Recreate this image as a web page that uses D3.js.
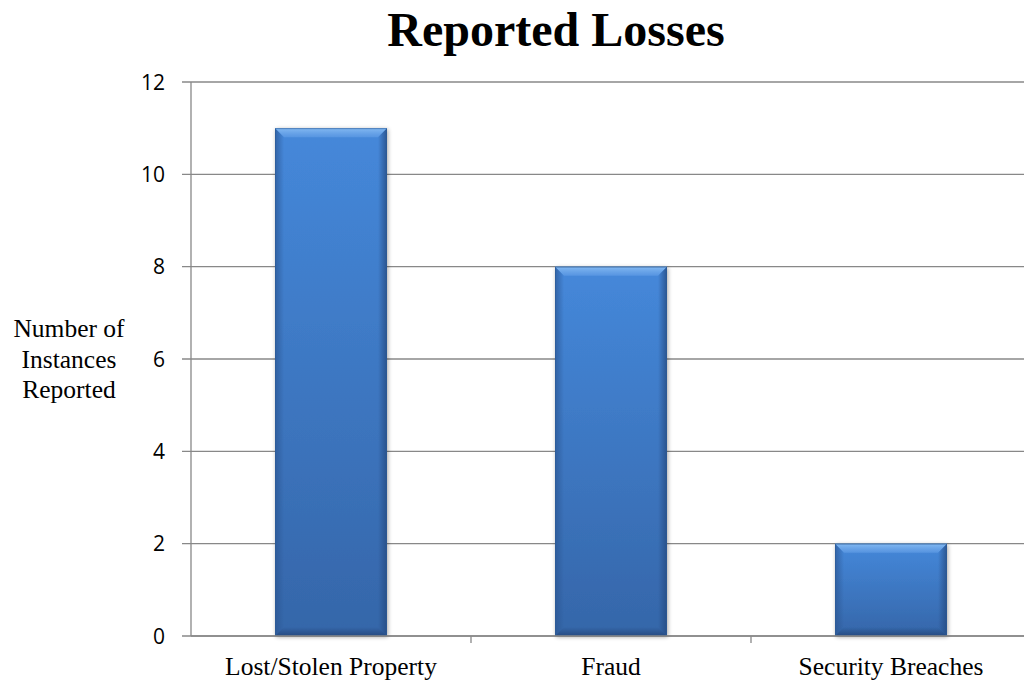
<!DOCTYPE html>
<html><head><meta charset="utf-8">
<script src="https://cdn.jsdelivr.net/npm/d3@7"></script>
<style>body{margin:0;background:#fff}svg{display:block}</style>
</head><body>
<script>
const categories = ["Lost/Stolen Property", "Fraud", "Security Breaches"];
const values = [11, 8, 2];
const yTicks = [0, 2, 4, 6, 8, 10, 12];
const title = "Reported Losses";
const yTitle = ["Number of", "Instances", "Reported"];

const W = 1024, H = 683;
const serif = "'Liberation Serif', 'Times New Roman', serif";
const svg = d3.select("body").append("svg").attr("width", W).attr("height", H);
const mLeft = 191, mRight = 1031, mTop = 82, mBottom = 636;

const x = d3.scaleBand().domain(categories).range([mLeft, mRight]).paddingInner(0.6).paddingOuter(0.3);
const xb = d3.scaleBand().domain(categories).range([mLeft, mRight]);
const y = d3.scaleLinear().domain([0, 12]).range([mBottom, mTop]);

const defs = svg.append("defs");
const g1 = defs.append("linearGradient").attr("id","bar").attr("x1",0).attr("y1",0).attr("x2",0).attr("y2",1);
g1.append("stop").attr("offset","0%").attr("stop-color","#4588da");
g1.append("stop").attr("offset","100%").attr("stop-color","#3566a9");
const gl = defs.append("linearGradient").attr("id","edgeL").attr("x1",0).attr("y1",0).attr("x2",1).attr("y2",0);
gl.append("stop").attr("offset","0%").attr("stop-color","#2a5490").attr("stop-opacity",0.7);
gl.append("stop").attr("offset","100%").attr("stop-color","#2a5490").attr("stop-opacity",0);
const gr = defs.append("linearGradient").attr("id","edgeR").attr("x1",1).attr("y1",0).attr("x2",0).attr("y2",0);
gr.append("stop").attr("offset","0%").attr("stop-color","#24497f").attr("stop-opacity",0.8);
gr.append("stop").attr("offset","100%").attr("stop-color","#24497f").attr("stop-opacity",0);
const gt = defs.append("linearGradient").attr("id","edgeT").attr("x1",0).attr("y1",0).attr("x2",0).attr("y2",1);
gt.append("stop").attr("offset","0%").attr("stop-color","#8cc0f5").attr("stop-opacity",0.9);
gt.append("stop").attr("offset","100%").attr("stop-color","#6aa4ea").attr("stop-opacity",0.5);
const gbm = defs.append("linearGradient").attr("id","edgeB").attr("x1",0).attr("y1",1).attr("x2",0).attr("y2",0);
gbm.append("stop").attr("offset","0%").attr("stop-color","#1f3f70").attr("stop-opacity",0.7);
gbm.append("stop").attr("offset","100%").attr("stop-color","#1f3f70").attr("stop-opacity",0);
const f = defs.append("filter").attr("id","sh").attr("x","-20%").attr("y","-20%").attr("width","140%").attr("height","140%");
f.append("feGaussianBlur").attr("in","SourceAlpha").attr("stdDeviation",2);
f.append("feOffset").attr("dx",1).attr("dy",1).attr("result","b");
f.append("feComponentTransfer").append("feFuncA").attr("type","linear").attr("slope",0.35);
const fm = f.append("feMerge"); fm.append("feMergeNode"); fm.append("feMergeNode").attr("in","SourceGraphic");

// gridlines
svg.append("g").selectAll("line").data(yTicks).join("line")
  .attr("x1", mLeft - 9).attr("x2", W).attr("y1", d => y(d)).attr("y2", d => y(d))
  .attr("stroke", "#888").attr("stroke-width", 1.3);

// y axis line
svg.append("line").attr("x1", mLeft).attr("x2", mLeft).attr("y1", mTop).attr("y2", mBottom)
  .attr("stroke", "#888").attr("stroke-width", 1.3);

// y labels
svg.append("g").selectAll("text").data(yTicks).join("text")
  .attr("x", 165).attr("y", d => y(d)).attr("dy", "0.36em").attr("text-anchor", "end")
  .attr("font-family", "'Open Sans', 'Liberation Sans', sans-serif").attr("font-size", 21).attr("fill", "#000")
  .text(d => d);

// category ticks
svg.append("g").selectAll("line").data(categories.slice(1)).join("line")
  .attr("x1", d => xb(d)).attr("x2", d => xb(d)).attr("y1", mBottom).attr("y2", mBottom + 7)
  .attr("stroke", "#888").attr("stroke-width", 1.3);

// bars
const bars = svg.append("g").selectAll("g").data(categories).join("g");
bars.each(function(c, i) {
  const gx = d3.select(this);
  const x0 = x(c), w = x.bandwidth(), y0 = y(values[i]), h = mBottom - y0;
  const e = 9;
  gx.append("rect").attr("x", x0).attr("y", y0).attr("width", w).attr("height", h)
    .attr("fill", "url(#bar)").attr("filter", "url(#sh)");
  gx.append("path").attr("d", `M${x0},${y0}L${x0+w},${y0}L${x0+w-e},${y0+e}L${x0+e},${y0+e}Z`).attr("fill","url(#edgeT)");
  gx.append("path").attr("d", `M${x0},${y0}L${x0+e},${y0+e}L${x0+e},${mBottom-e}L${x0},${mBottom}Z`).attr("fill","url(#edgeL)");
  gx.append("path").attr("d", `M${x0+w},${y0}L${x0+w-e},${y0+e}L${x0+w-e},${mBottom-e}L${x0+w},${mBottom}Z`).attr("fill","url(#edgeR)");
  gx.append("path").attr("d", `M${x0},${mBottom}L${x0+e},${mBottom-e}L${x0+w-e},${mBottom-e}L${x0+w},${mBottom}Z`).attr("fill","url(#edgeB)");
  gx.append("rect").attr("x", x0+0.5).attr("y", y0+0.5).attr("width", w-1).attr("height", h-1)
    .attr("fill","none").attr("stroke","#2c5a96").attr("stroke-width",1).attr("stroke-opacity",0.6);
});

// x axis line
svg.append("line").attr("x1", mLeft).attr("x2", W).attr("y1", mBottom).attr("y2", mBottom)
  .attr("stroke", "#888").attr("stroke-width", 1.3);

// category labels
svg.append("g").selectAll("text").data(categories).join("text")
  .attr("x", d => xb(d) + xb.bandwidth()/2).attr("y", 675).attr("text-anchor", "middle")
  .attr("font-family", serif).attr("font-size", 25.5).attr("fill", "#000")
  .text(d => d);

// title
svg.append("text").attr("x", 556).attr("y", 46).attr("text-anchor", "middle")
  .attr("font-family", serif).attr("font-weight", "bold")
  .attr("font-size", 48).attr("fill", "#000").text(title);

// y title
svg.append("g").selectAll("text").data(yTitle).join("text")
  .attr("x", 69).attr("y", (d, i) => 337 + i * 30.5).attr("text-anchor", "middle")
  .attr("font-family", serif).attr("font-size", 25.5).attr("fill", "#000")
  .text(d => d);
</script>
</body></html>
